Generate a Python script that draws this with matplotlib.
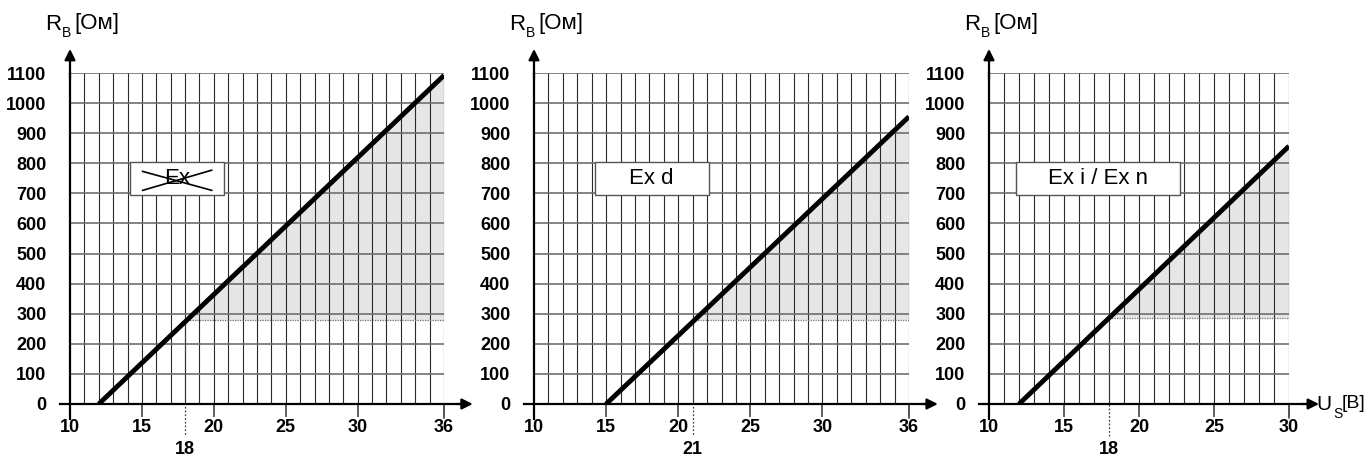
import matplotlib.pyplot as plt

# --- data ---
titles = ["Ex", "Ex d", "Ex i / Ex n"]
u_start = [12, 15, 12]          # supply voltage where R_B = 0
u_max = [36, 36, 30]            # right end of the x range
r_at_max = [1092, 955, 857]     # load resistance at u_max
u_mark = [18, 21, 18]           # marked minimum voltage
r_min = [278, 280, 285]         # lower bound of the shaded area
x_ticks = [[10, 15, 20, 25, 30, 36], [10, 15, 20, 25, 30, 36], [10, 15, 20, 25, 30]]
y_ticks = list(range(0, 1101, 100))

plt.rcParams["font.family"] = ["Liberation Sans", "DejaVu Sans"]

fig = plt.figure(figsize=(13.71, 4.59), dpi=100)
W, H = 1371, 459

# axes boxes in pixels: (x of U=10, x of U=max)
px_x = [(70, 444), (534, 909), (989, 1289)]
px_top, px_bot = 73, 404

# label boxes (data coords): x0, x1
boxes = [(14.2, 20.7), (14.2, 22.1), (11.8, 22.7)]

for i in range(3):
    x0, x1 = px_x[i]
    ax = fig.add_axes([x0 / W, 1 - px_bot / H, (x1 - x0) / W, (px_bot - px_top) / H])
    ax.set_xlim(10, u_max[i])
    ax.set_ylim(0, 1100)
    for s in ax.spines.values():
        s.set_visible(False)

    # grid
    for u in range(11, u_max[i] + 1):
        ax.plot([u, u], [0, 1100], color="#2a2a2a", lw=0.8, zorder=1)
    for r in y_ticks[1:]:
        ax.plot([10, u_max[i]], [r, r], color="#6e6e6e", lw=1.2, zorder=1)

    # shaded area
    slope = r_at_max[i] / (u_max[i] - u_start[i])
    u_cross = u_start[i] + r_min[i] / slope
    ax.fill_between([u_cross, u_max[i]], [r_min[i], r_min[i]], [r_min[i], r_at_max[i]],
                    color="#e6e6e6", lw=0, zorder=0)
    ax.plot([u_cross, u_max[i]], [r_min[i], r_min[i]], color="#777777", lw=0.9,
            ls=(0, (1, 1)), zorder=2)
    ax.plot([u_mark[i], u_mark[i]], [r_min[i], -105], color="#444444", lw=0.9,
            ls=(0, (1.5, 1.5)), zorder=2, clip_on=False)

    # characteristic line
    ax.plot([u_start[i], u_max[i]], [0, r_at_max[i]], color="black", lw=3.5,
            solid_capstyle="butt", zorder=4)

    # axes with arrows
    ax.plot([10, 10], [-50, 1100], color="black", lw=1.6, clip_on=False, zorder=5)
    ax.annotate("", xy=(10, 1180), xytext=(10, 1080), xycoords="data",
                arrowprops=dict(arrowstyle="-|>", color="black", lw=1.6,
                                mutation_scale=16, shrinkA=0, shrinkB=0),
                annotation_clip=False)
    ax.plot([u_max[i], u_max[i]], [0, -45], color="#555555", lw=1.2, clip_on=False)
    xr = u_max[i] + 1.7
    ax.plot([9.3, xr - 0.5], [0, 0], color="black", lw=1.6, clip_on=False, zorder=5)
    ax.annotate("", xy=(xr + 0.3, 0), xytext=(xr - 0.8, 0),
                arrowprops=dict(arrowstyle="-|>", color="black", lw=1.6,
                                mutation_scale=16, shrinkA=0, shrinkB=0),
                annotation_clip=False)

    # ticks and labels
    ax.set_xticks(x_ticks[i])
    ax.set_xticklabels([str(t) for t in x_ticks[i]])
    ax.set_yticks(y_ticks)
    ax.set_yticklabels([str(t) for t in y_ticks])
    ax.tick_params(axis="x", length=9, width=1.2, color="#444444", pad=2, labelsize=13)
    ax.tick_params(axis="y", length=0, pad=17, labelsize=13)
    for lab in ax.get_xticklabels() + ax.get_yticklabels():
        lab.set_fontweight("bold")
    ax.text(u_mark[i], -150, str(u_mark[i]), ha="center", va="center", fontsize=13,
            fontweight="bold")

    # axis title, offsets in pixels from the top of the y axis
    ax.annotate("R", xy=(0, 1), xycoords="axes fraction", xytext=(-25, 48),
                textcoords="offset pixels", fontsize=16, ha="left", va="center")
    ax.annotate("B", xy=(0, 1), xycoords="axes fraction", xytext=(-8, 40),
                textcoords="offset pixels", fontsize=10, ha="left", va="center")
    ax.annotate("[Ом]", xy=(0, 1), xycoords="axes fraction", xytext=(4, 49),
                textcoords="offset pixels", fontsize=16, ha="left", va="center")

    # label box
    bx0, bx1 = boxes[i]
    ax.add_patch(plt.Rectangle((bx0, 693), bx1 - bx0, 110, facecolor="white",
                               edgecolor="#555555", lw=1.0, zorder=6))
    ax.text((bx0 + bx1) / 2, 750, titles[i], ha="center", va="center", fontsize=16,
            zorder=7)
    if i == 0:
        ax.plot([15.05, 19.85], [773, 710], color="black", lw=1.2, zorder=8)
        ax.plot([15.05, 19.85], [710, 777], color="black", lw=1.2, zorder=8)

# U_S label at right of last panel
fig.text(1316 / W, 1 - 405 / H, "U", fontsize=15, ha="left", va="center")
fig.text(1333 / W, 1 - 414 / H, "S", fontsize=10, ha="left", va="center")
fig.text(1342 / W, 1 - 404 / H, "[В]", fontsize=14, ha="left", va="center")

fig.savefig("out.png", dpi=100)
